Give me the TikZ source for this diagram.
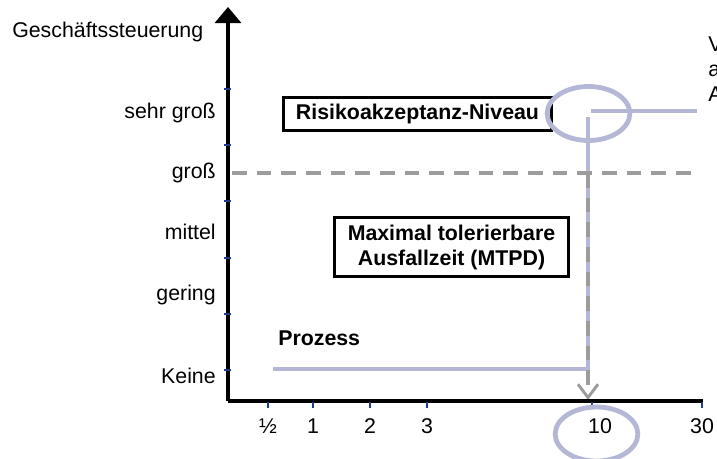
\documentclass[tikz,border=0pt]{standalone}
\usepackage{fontspec}
\setmainfont{Liberation Sans}
\usepackage{tikz}
\usetikzlibrary{shapes.geometric, arrows.meta, positioning}
\usepackage{xcolor}
\definecolor{cTick}{HTML}{1F3A8C}
\definecolor{cLimit}{HTML}{9C9C9C}
\definecolor{cLav}{HTML}{B4B8D6}
\tikzset{
  axisline/.style={black, line width=2.4pt},
  tickmark/.style={cTick, line width=2.2pt},
  axislabel/.style={font=\fontsize{16}{18.75}\selectfont, inner sep=0pt},
  framebox/.style={
    draw=black, fill=white, line width=2.4pt,
    font=\fontsize{16}{18.75}\selectfont\bfseries,
    align=center, inner sep=0pt,
  },
  procline/.style={cLav, line width=2.3pt},
  limitline/.style={cLimit, line width=3pt, dash pattern=on 11pt off 7.5pt},
  markring/.style={
    draw=cLav, ellipse, line width=3.6pt, inner sep=0pt,
    minimum width=62pt, minimum height=40.5pt,
  },
}

\begin{document}
\begin{tikzpicture}[x=0.75pt, y=-0.75pt]
  \useasboundingbox (0,0) rectangle (717,458);

  % Anchor points of the chart
  \coordinate (origin) at (228,401);
  \coordinate (ytop) at (228,7);
  \coordinate (xend) at (703,401);
  \coordinate (procstart) at (273,369);
  \coordinate (proccorner) at (588,369);
  \coordinate (procend) at (588,117);
  \coordinate (riskstart) at (591,111);
  \coordinate (riskend) at (697,111);
  \coordinate (limitstart) at (232,173);
  \coordinate (limitend) at (691,173);
  \coordinate (limitcross) at (588,173);
  \coordinate (mtpdfoot) at (588,400);

  % Boxes
  \node[framebox, minimum width=201pt, minimum height=25pt]
    (risk) at (417.5,114) {Risikoakzeptanz-Niveau};
  \node[framebox, minimum width=176pt, minimum height=44.5pt]
    (mtpd) at (451.5,247) {Maximal tolerierbare\\Ausfallzeit (MTPD)};
  \node[axislabel, font=\fontsize{16}{18.75}\selectfont\bfseries, anchor=base west]
    (proc) at (278,345) {Prozess};

  % Process and risk lines
  \draw[procline] (procstart) -- (proccorner) -- (procend);
  \draw[procline] (riskstart) -- (riskend);

  % Acceptance level and drop to the time axis
  \draw[limitline] (limitstart) -- (limitend);
  \draw[limitline, -{Straight Barb[length=10pt, width=15pt, line width=2.2pt]}]
    (limitcross) -- (mtpdfoot);

  % Axes
  \draw[axisline, -{Triangle[width=19.5pt, length=12pt]}] (origin) -- (ytop);
  \draw[axisline] (origin) -- (xend);

  % Ticks
  \foreach \y in {89,145,201,258,314,370} {
    \draw[tickmark] (224,\y) -- (231,\y);
  }
  \foreach \x in {268,313,370,427,592,702} {
    \draw[tickmark] (\x,402) -- (\x,408);
  }

  % Axis labels
  \node[axislabel, anchor=base west] (ytitle) at (12,37) {Geschäftssteuerung};
  \foreach \y/\lbl in {118/sehr groß, 178/groß, 239/mittel, 300/gering, 383/Keine} {
    \node[axislabel, anchor=base east] (ylab\y) at (216,\y) {\lbl};
  }
  \foreach \x/\lbl in {268/½, 313/1, 370/2, 427/3, 600/10, 702/30} {
    \node[axislabel, anchor=base] (xlab\x) at (\x,433) {\lbl};
  }

  % Highlight rings
  \node[markring] (riskring) at (588.5,113.5) {};
  \node[markring] (tenring) at (596.5,434) {};

  % Side note, cut at the edge
  \foreach \y/\lbl in {51/V, 76/a, 101/A} {
    \node[axislabel, anchor=base west] (note\y) at (708,\y) {\lbl};
  }
\end{tikzpicture}
\end{document}
